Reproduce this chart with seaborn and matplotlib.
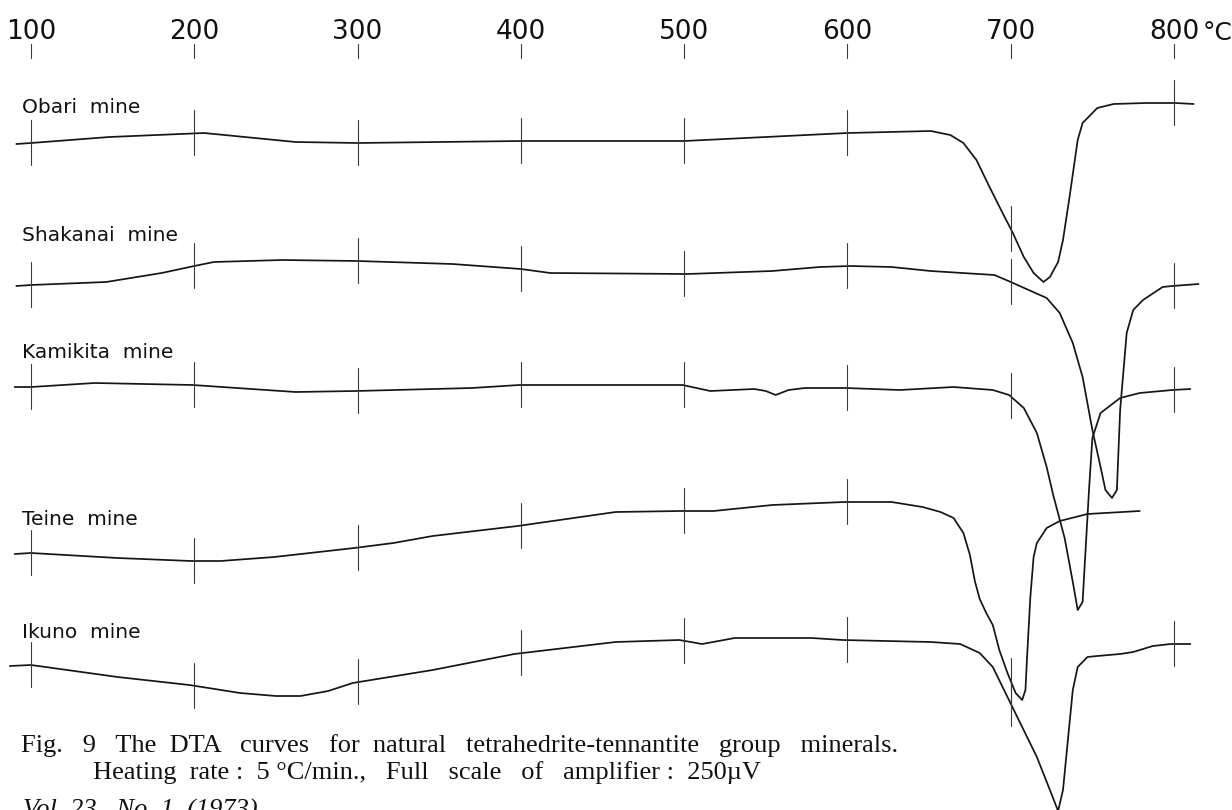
import numpy as np
import pandas as pd
import seaborn as sns
import matplotlib.pyplot as plt
from matplotlib import transforms

# DTA traces: temperature (°C) and deflection (up = exo, px units)
obari_t = [91, 100, 148, 206, 262, 300, 400, 500, 600, 651, 663, 671, 679, 687, 695, 701,
           708, 714, 720, 724, 729, 732, 736, 741, 744, 753, 763, 783, 801, 812]
obari_d = [-1, 0, 6, 10, 1, 0, 2, 2, 10, 12, 8, 0, -17, -44, -70, -89,
           -114, -130, -139, -134, -119, -97, -54, 3, 20, 35, 39, 40, 40, 39]

shakanai_t = [91, 100, 146, 180, 200, 212, 254, 300, 358, 400, 418, 502, 554, 583, 602, 627, 651,
              690, 700, 722, 730, 738, 744, 750, 755, 758, 762, 765, 767, 771, 775, 781, 793, 799, 815]
shakanai_d = [-1, 0, 3, 12, 19, 23, 25, 24, 21, 16, 12, 11, 14, 18, 19, 18, 14,
              10, 3, -13, -28, -58, -92, -145, -182, -205, -213, -205, -125, -48, -25, -15, -2, -1, 1]

kamikita_t = [90, 100, 139, 199, 262, 299, 370, 399, 458, 499, 516, 543, 550, 556, 564, 574,
              599, 632, 665, 689, 699, 708, 716, 722, 726, 733, 738, 741, 744, 746, 748, 750,
              755, 767, 779, 799, 810]
kamikita_d = [0, 0, 4, 2, -5, -4, -1, 2, 2, 2, -4, -2, -4, -8, -3, -1,
              -1, -3, 0, -3, -8, -21, -46, -80, -108, -151, -195, -223, -215, -158, -101, -51,
              -26, -11, -6, -3, -2]

teine_t = [90, 100, 153, 198, 216, 249, 298, 322, 346, 398, 458, 498, 518, 554, 598, 627,
           646, 657, 665, 671, 675, 678, 681, 685, 689, 693, 698, 703, 707, 709, 710, 712, 714,
           716, 722, 730, 747, 779]
teine_d = [-1, 0, -5, -8, -8, -4, 5, 10, 17, 27, 41, 42, 42, 48, 51, 51,
           46, 41, 35, 20, -2, -28, -46, -60, -72, -97, -120, -140, -147, -137, -104, -44, -4,
           10, 25, 32, 39, 42]

ikuno_t = [87, 100, 153, 197, 228, 250, 265, 282, 297, 346, 396, 458, 497, 511, 531, 578, 597,
           651, 669, 681, 689, 695, 704, 716, 724, 729, 732, 735, 738, 741, 747, 753, 767, 775,
           787, 798, 810]
ikuno_d = [-1, 0, -12, -20, -28, -31, -31, -26, -18, -5, 11, 23, 25, 21, 27, 27, 25,
           23, 21, 12, -2, -22, -52, -92, -125, -146, -125, -75, -25, -2, 8, 9, 11, 13,
           19, 21, 21]

mines = ["Obari", "Shakanai", "Kamikita", "Teine", "Ikuno"]
temps = [obari_t, shakanai_t, kamikita_t, teine_t, ikuno_t]
defls = [obari_d, shakanai_d, kamikita_d, teine_d, ikuno_d]
scale_labels = ["100", "200", "300", "400", "500", "600", "700", "800"]
caption1 = "Fig.   9   The  DTA   curves   for  natural   tetrahedrite-tennantite   group   minerals."
caption2 = "Heating  rate :  5 \u00b0C/min.,   Full   scale   of   amplifier :  250\u00b5V"
caption3 = "Vol. 23   No. 1  (1973)"

# layout on the sheet (pixels, y down)
base_y = [143, 285, 387, 553, 665]
label_y = [113, 241, 358, 525, 638]
last_tick = [800, 800, 800, 700, 800]

rows = []
for m, t, d, b in zip(mines, temps, defls, base_y):
    for ti, di in zip(t, d):
        rows.append({"mine": m, "T": ti, "y": b - di})
df = pd.DataFrame(rows)

sns.set_theme(style="white")
plt.rcParams["font.family"] = ["DejaVu Sans"]

fig = plt.figure(figsize=(12.32, 8.10), dpi=100)
ax = fig.add_axes([0, 0, 1, 1])

for m in mines:
    sns.lineplot(data=df[df.mine == m], x="T", y="y", estimator=None, sort=False,
                 color="#151515", linewidth=1.25, ax=ax, legend=False)

# 100 °C marks on every trace
for m, t, d, b, lt in zip(mines, temps, defls, base_y, last_tick):
    for tt in range(100, lt + 1, 100):
        yc = b - np.interp(tt, t, d)
        ax.plot([tt, tt], [yc - 23, yc + 22], color="#3a3a3a", linewidth=0.8)

# temperature scale on top
for i, lab in enumerate(scale_labels):
    tt = 100 + 100 * i
    ax.plot([tt, tt], [44, 58], color="#3a3a3a", linewidth=0.8)
    ax.text(tt, 32, lab, ha="center", va="center", fontsize=19, color="#111111")
off = transforms.offset_copy(ax.transData, fig=fig, x=29, y=0, units="dots")
ax.text(800, 33, "\u00b0C", transform=off, ha="left", va="center", fontsize=18, color="#111111")

for m, ly in zip(mines, label_y):
    ax.text(94.5, ly, m + "  mine", ha="left", va="baseline", fontsize=14.5, color="#111111")

ax.set_xlim(81.0, 835.5)
ax.set_ylim(810, 0)
ax.axis("off")

serif = ["Liberation Serif", "DejaVu Serif"]
fig.text(21 / 1232, 1 - 752 / 810, caption1, family=serif, fontsize=19, va="baseline", color="#111111")
fig.text(93 / 1232, 1 - 779 / 810, caption2, family=serif, fontsize=19, va="baseline", color="#111111")
fig.text(23 / 1232, 1 - 817 / 810, caption3, family=serif, fontsize=19, style="italic",
         va="baseline", color="#111111")

fig.savefig("out.png", dpi=100, facecolor="white")
